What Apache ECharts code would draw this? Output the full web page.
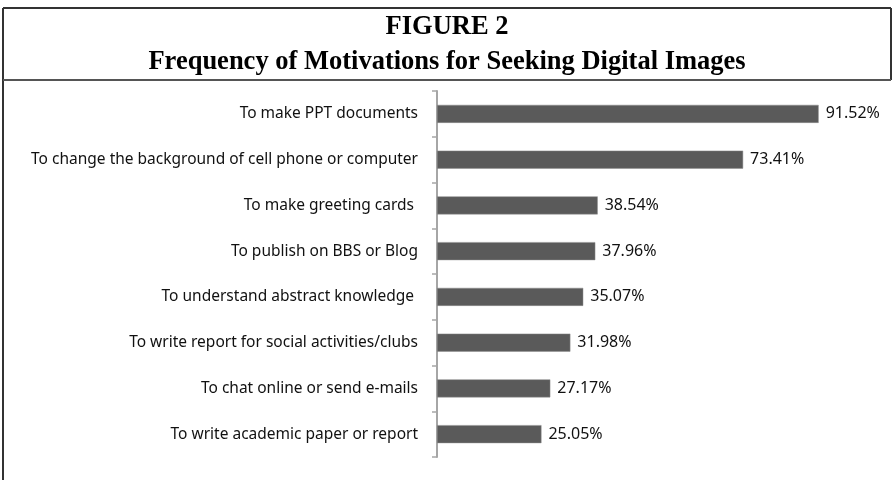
<!DOCTYPE html>
<html>
<head>
<meta charset="utf-8">
<script src="https://cdn.jsdelivr.net/npm/echarts@6/dist/echarts.min.js"></script>
<style>
  html, body { margin: 0; padding: 0; background: #fff; }
  #chart { width: 894px; height: 480px; }
</style>
</head>
<body>
<div id="chart"></div>
<script>
  // motivations, top to bottom as in the figure
  let categories = [
    'To make PPT documents',
    'To change the background of cell phone or computer',
    'To make greeting cards ',
    'To publish on BBS or Blog',
    'To understand abstract knowledge ',
    'To write report for social activities/clubs',
    'To chat online or send e-mails',
    'To write academic paper or report'
  ];
  let values = [91.52, 73.41, 38.54, 37.96, 35.07, 31.98, 27.17, 25.05];

  let chart = echarts.init(document.getElementById('chart'));

  let titleFont = { fontFamily: 'Liberation Serif', fontWeight: 'bold', fontSize: 26.5, color: '#000' };

  let option = {
    animation: false,
    title: [
      { text: 'FIGURE 2', left: 'center', top: 9, textStyle: titleFont },
      { text: 'Frequency of Motivations for Seeking Digital Images', left: 'center', top: 44, textStyle: titleFont }
    ],
    graphic: [
      { type: 'line', shape: { x1: 3, y1: 8, x2: 891, y2: 8 }, style: { stroke: '#333', lineWidth: 2 } },
      { type: 'line', shape: { x1: 3, y1: 8, x2: 3, y2: 480 }, style: { stroke: '#333', lineWidth: 2 } },
      { type: 'line', shape: { x1: 891, y1: 8, x2: 891, y2: 80 }, style: { stroke: '#333', lineWidth: 2 } },
      { type: 'line', shape: { x1: 3, y1: 80, x2: 891, y2: 80 }, style: { stroke: '#555', lineWidth: 2 } }
    ],
    grid: { left: 437, top: 91, width: 417, height: 366 },
    xAxis: {
      type: 'value',
      min: 0,
      max: 100,
      show: false
    },
    yAxis: {
      type: 'category',
      inverse: true,
      data: categories,
      axisLine: { show: true, lineStyle: { color: '#a6a6a6', width: 2 } },
      axisTick: { show: true, length: 5, lineStyle: { color: '#a6a6a6', width: 1.5 } },
      axisLabel: {
        margin: 19,
        fontFamily: 'Noto Sans',
        fontSize: 15.5,
        color: '#111'
      }
    },
    series: [{
      type: 'bar',
      data: values,
      barWidth: 18,
      itemStyle: { color: '#5a5a5a', borderColor: '#8c8c8c', borderWidth: 0.5 },
      label: {
        show: true,
        position: 'right',
        distance: 7,
        formatter: function(p) { return p.value.toFixed(2) + '%'; },
        fontFamily: 'Noto Sans',
        fontSize: 16,
        color: '#111'
      }
    }]
  };

  chart.setOption(option);
</script>
</body>
</html>
